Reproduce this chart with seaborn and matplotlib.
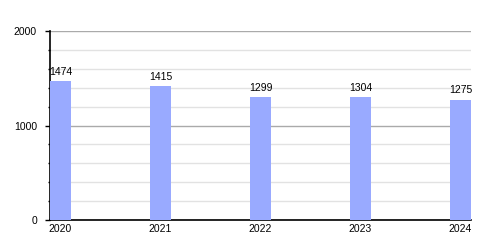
import matplotlib
matplotlib.use("Agg")
import matplotlib.pyplot as plt
import seaborn as sns
import pandas as pd
from matplotlib.ticker import MultipleLocator

years = ["2020", "2021", "2022", "2023", "2024"]
values = [1474, 1415, 1299, 1304, 1275]

sns.set_style("white")
plt.rcParams["font.family"] = ["Liberation Sans", "DejaVu Sans"]
plt.rcParams["text.color"] = "black"
plt.rcParams["xtick.color"] = "black"
plt.rcParams["ytick.color"] = "black"

df = pd.DataFrame({"year": years, "value": values})

fig = plt.figure(figsize=(5, 2.5), dpi=100)
ax = fig.add_axes([0.1, 0.12, 0.842, 0.756])

sns.barplot(data=df, x="year", y="value", color="#99aaff", saturation=1,
            width=0.21, ax=ax, zorder=3, edgecolor="none", linewidth=0)

ax.set_xlim(-0.105, len(years) - 1 + 0.105)
ax.set_ylim(0, 2000)
ax.yaxis.set_major_locator(MultipleLocator(1000))
ax.yaxis.set_minor_locator(MultipleLocator(200))
ax.grid(which="major", axis="y", color="#aaaaaa", linewidth=1, zorder=0)
ax.grid(which="minor", axis="y", color="#e2e2e2", linewidth=1, zorder=0)
ax.set_axisbelow(True)

for s in ["top", "right"]:
    ax.spines[s].set_visible(False)
for s in ["left", "bottom"]:
    ax.spines[s].set_color("black")
    ax.spines[s].set_linewidth(1.2)

ax.tick_params(axis="y", which="major", length=3.6, width=1, color="black",
               labelsize=7.5, labelcolor="black", pad=5.8, left=True)
ax.tick_params(axis="y", which="minor", length=1.8, width=1, color="black", left=True)
ax.tick_params(axis="x", length=0, labelsize=7.5, labelcolor="black", pad=3)
ax.set_xlabel("")
ax.set_ylabel("")

for container in ax.containers:
    ax.bar_label(container, labels=[str(v) for v in values], padding=3,
                 fontsize=7.5, color="black")

fig.savefig("out.png", dpi=100)
